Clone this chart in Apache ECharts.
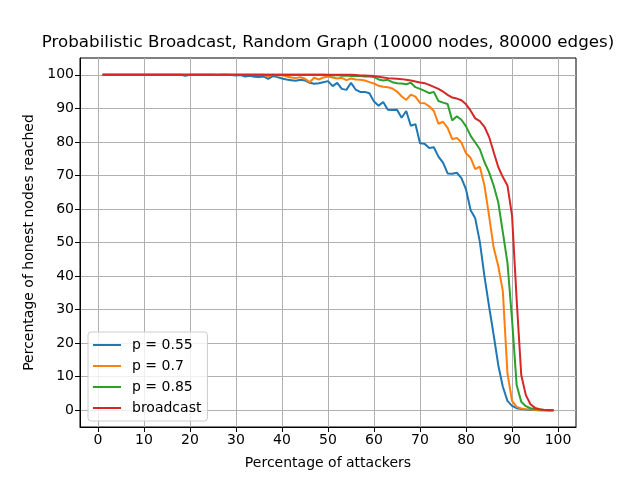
<!DOCTYPE html>
<html lang="en">
<head>
    <meta charset="UTF-8">
    <title>Probabilistic Broadcast</title>
    <script src="https://cdn.jsdelivr.net/npm/echarts@6/dist/echarts.min.js"></script>
    <style>
        html, body { margin: 0; padding: 0; background: #ffffff; }
        #chart { width: 640px; height: 480px; }
    </style>
</head>
<body>
    <div id="chart"></div>
<script>
    // attacker percentage 1..99
    var attackers = [];
    for (var i = 1; i <= 99; i++) attackers.push(i);

    var p055 = [
        100,100,100,100,100,100,100,100,100,100,
        100,100,100,100,100,100,100,100,99.7,100,
        100,100,100,100,100,99.9,100,100,99.9,99.8,
        99.9,99.5,99.7,99.4,99.3,99.5,98.8,99.6,99.3,98.9,
        98.6,98.4,98.2,98.5,98.3,97.6,97.3,97.5,97.8,98.1,
        96.6,97.6,95.8,95.5,97.6,95.6,94.9,94.9,94.5,92.0,
        90.8,91.9,89.6,89.5,89.6,87.2,89.2,84.8,85.3,79.6,
        79.4,78.2,78.4,75.6,73.8,70.6,70.5,70.8,69.2,65.8,
        59.6,57.2,50.2,40.0,31.0,22.5,13.5,7.0,2.8,1.3,
        0.6,0.4,0.2,0.1,0.1,0,0,0,0
    ];
    var p07 = [
        100,100,100,100,100,100,100,100,100,100,
        100,100,100,100,100,100,100,100,100,100,
        100,100,100,100,100,100,100,100,100,100,
        100,100,100,100,100,100,99.5,100,99.8,99.9,
        99.5,99.2,99.0,99.3,98.8,97.8,99.1,98.6,99.2,99.5,
        99.2,98.9,99.1,98.4,98.9,98.6,98.5,98.3,97.8,97.4,
        96.7,96.4,96.3,95.9,95.0,93.6,92.5,94.1,93.5,91.6,
        91.5,90.6,89.2,85.4,86.0,84.2,80.8,81.2,79.8,76.6,
        75.2,71.9,72.6,67.0,58.0,48.5,43.0,35.5,11.0,2.8,
        1.0,0.5,0.3,0.2,0.1,0,0,0,0
    ];
    var p085 = [
        100,100,100,100,100,100,100,100,100,100,
        100,100,100,100,100,100,100,100,100,100,
        100,100,100,100,100,100,100,100,100,100,
        100,100,100,100,100,100,100,100,100,100,
        100,100,100,100,100,100,100,100,100,99.9,
        99.8,99.9,99.7,99.8,99.6,99.7,99.6,99.5,99.5,99.3,
        98.6,98.3,98.5,97.8,97.5,97.4,97.2,97.6,96.3,95.8,
        95.2,94.5,94.9,92.2,91.7,91.3,86.4,87.6,86.6,84.6,
        81.8,79.8,77.8,74.0,71.0,67.0,62.0,53.0,44.0,27.0,
        7.5,2.5,1.2,0.6,0.3,0.2,0.1,0,0
    ];
    var broadcast = [
        100,100,100,100,100,100,100,100,100,100,
        100,100,100,100,100,100,100,100,100,100,
        100,100,100,100,100,100,100,100,100,100,
        100,100,100,100,100,100,100,100,100,100,
        100,100,100,100,100,100,100,100,100,100,
        100,100,100,100,100,99.9,99.8,99.8,99.7,99.6,
        99.4,99.2,99.0,98.9,98.8,98.7,98.5,98.3,98.0,97.7,
        97.5,97.0,96.4,95.8,95.0,94.0,93.2,92.9,92.4,91.2,
        89.3,87.0,86.2,84.5,81.5,77.0,72.5,69.5,67.0,58.0,
        33.0,10.5,4.5,1.8,0.7,0.3,0.1,0,0
    ];

    var seriesNames = ['p = 0.55', 'p = 0.7', 'p = 0.85', 'broadcast'];
    var seriesColors = ['#1f77b4', '#ff7f0e', '#2ca02c', '#d62728'];
    var seriesValues = [p055, p07, p085, broadcast];
    var tickValues = [0, 10, 20, 30, 40, 50, 60, 70, 80, 90, 100];

    function pairs(ys) {
        var out = [];
        for (var i = 0; i < ys.length; i++) out.push([attackers[i], ys[i]]);
        return out;
    }

    var font = 'DejaVu Sans';
    var series = [];
    for (var s = 0; s < seriesNames.length; s++) {
        series.push({
            name: seriesNames[s],
            type: 'line',
            showSymbol: false,
            symbol: 'none',
            color: seriesColors[s],
            lineStyle: { width: 2, color: seriesColors[s] },
            data: pairs(seriesValues[s])
        });
    }

    var axisCommon = {
        type: 'value',
        nameLocation: 'middle',
        nameTextStyle: { color: '#000', fontFamily: font, fontSize: 14 },
        axisLine: { show: true, onZero: false, lineStyle: { color: '#000', width: 1 } },
        axisTick: { show: true, inside: false, length: 5, customValues: tickValues, lineStyle: { color: '#000', width: 1 } },
        axisLabel: { color: '#000', fontFamily: font, fontSize: 14, margin: 6, customValues: tickValues },
        splitLine: { show: true, lineStyle: { color: '#b0b0b0', width: 1 } }
    };

    var option = {
        animation: false,
        backgroundColor: '#ffffff',
        title: {
            text: 'Probabilistic Broadcast, Random Graph (10000 nodes, 80000 edges)',
            left: 328,
            textAlign: 'center',
            top: 34,
            padding: 0,
            textStyle: { color: '#000', fontFamily: font, fontSize: 16.7, fontWeight: 'normal' }
        },
        grid: {
            left: 80, right: 64, top: 58, bottom: 53,
            show: true, borderColor: '#000', borderWidth: 1, backgroundColor: 'transparent'
        },
        legend: {
            orient: 'vertical',
            left: 88,
            top: 332,
            padding: [5, 6, 5, 5],
            itemGap: 5,
            itemWidth: 28,
            itemHeight: 2,
            icon: 'rect',
            backgroundColor: 'rgba(255,255,255,0.8)',
            borderColor: '#cccccc',
            borderWidth: 1,
            borderRadius: 3,
            textStyle: { color: '#000', fontFamily: font, fontSize: 14, lineHeight: 16, padding: [0, 0, 0, 6] },
            data: seriesNames
        },
        xAxis: Object.assign({}, axisCommon, {
            min: -3.9, max: 103.9, splitNumber: 10,
            name: 'Percentage of attackers', nameGap: 29
        }),
        yAxis: Object.assign({}, axisCommon, {
            min: -5, max: 105, splitNumber: 11,
            name: 'Percentage of honest nodes reached', nameGap: 43
        }),
        series: series
    };

    echarts.init(document.getElementById('chart')).setOption(option);
</script>
</body>
</html>
